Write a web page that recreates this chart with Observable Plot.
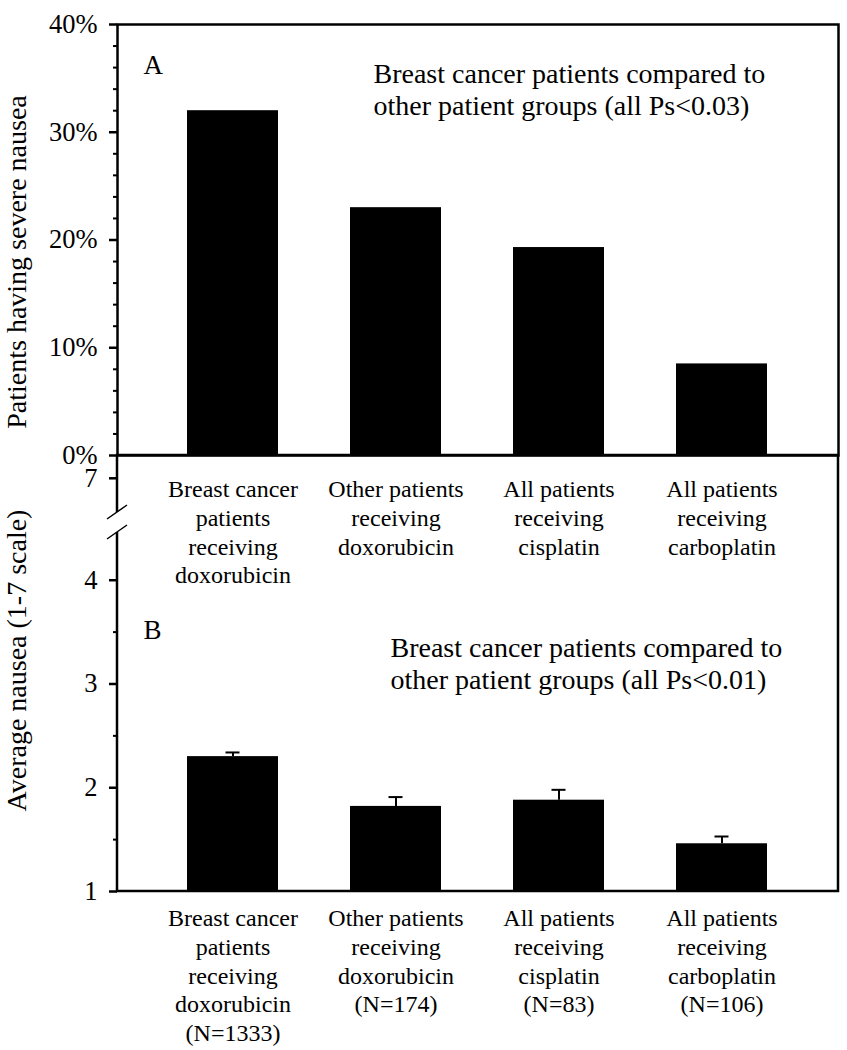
<!DOCTYPE html>
<html>
<head>
<meta charset="utf-8">
<script src="https://cdn.jsdelivr.net/npm/d3@7"></script>
<script src="https://cdn.jsdelivr.net/npm/@observablehq/plot@0.6"></script>
<style>
  html, body { margin: 0; padding: 0; background: white; }
  #wrap { position: relative; width: 847px; height: 1050px; background: white; }
  #wrap svg { position: absolute; left: 0; top: 0; }
</style>
</head>
<body>
<div id="wrap"></div>
<script>
// ---- data ----
const categories = [
  "Breast cancer\npatients\nreceiving\ndoxorubicin",
  "Other patients\nreceiving\ndoxorubicin",
  "All patients\nreceiving\ncisplatin",
  "All patients\nreceiving\ncarboplatin"
];
const nLabels = ["(N=1333)", "(N=174)", "(N=83)", "(N=106)"];
const severePct = [32.0, 23.0, 19.3, 8.5];          // panel A, %
const avgNausea = [2.30, 1.82, 1.88, 1.46];         // panel B, mean (1-7)
const avgNauseaUpper = [2.34, 1.91, 1.98, 1.53];    // panel B, mean + SE
const ticksA = [0, 10, 20, 30, 40];
const minorTicksA = [2, 4, 6, 8, 12, 14, 16, 18, 22, 24, 26, 28, 32, 34, 36, 38];
const ticksB = [1, 2, 3, 4, 7];
const minorTicksB = [1.5, 2.5, 3.5];
const breakB = [4.46, 6.67];
const domainB = [1, breakB[0], breakB[1], 7.22];
const titleA = "Patients having severe nausea";
const titleB = "Average nausea (1-7 scale)";
const noteA = "Breast cancer patients compared to\nother patient groups (all Ps<0.03)";
const noteB = "Breast cancer patients compared to\nother patient groups (all Ps<0.01)";

const dataA = categories.map((c, i) => ({cat: c, value: severePct[i]}));
const dataB = categories.map((c, i) => ({cat: c, value: avgNausea[i], hi: avgNauseaUpper[i], label: c + "\n" + nLabels[i]}));

const W = 847, H = 1050;
const font = "Liberation Serif, Times New Roman, serif";
const xOpts = {domain: categories, paddingInner: 0.44, paddingOuter: 0.42, axis: null};

// ---- panel A ----
const plotA = Plot.plot({
  width: W, height: H,
  marginLeft: 117, marginRight: 9, marginTop: 24, marginBottom: 595,
  style: {fontFamily: font, background: "transparent", color: "black"},
  x: xOpts,
  y: {domain: [0, 40], label: null},
  marks: [
    Plot.barY(dataA, {x: "cat", y: "value", fill: "black"}),
    Plot.frame({stroke: "black", strokeWidth: 2.5}),
    Plot.axisY({ticks: ticksA, tickFormat: d => d + "%", tickSize: 8, tickPadding: 12, fontSize: 26.5, strokeWidth: 2.5, label: null}),
    Plot.axisY({ticks: minorTicksA, tickFormat: () => "", tickSize: 4, strokeWidth: 2, label: null}),
    Plot.text([titleA], {text: d => d, frameAnchor: "left", textAnchor: "middle", rotate: -90, dx: -100, dy: 22, fontSize: 28, lineAnchor: "middle"}),
    Plot.text(["A"], {text: d => d, frameAnchor: "top-left", textAnchor: "start", lineAnchor: "middle", dx: 26, dy: 41, fontSize: 27}),
    Plot.text([noteA], {text: d => d, frameAnchor: "top-left", textAnchor: "start", lineAnchor: "top", dx: 256, dy: 36, fontSize: 28, lineHeight: 1.14}),
    Plot.text(dataA, {x: "cat", text: "cat", frameAnchor: "bottom", lineAnchor: "top", dy: 21, fontSize: 24, lineHeight: 1.2})
  ]
});

// ---- panel B ----
function frameB(index, scales, values, dims) {
  const y = scales.y;
  const L = dims.marginLeft, R = dims.width - dims.marginRight;
  const T = y(domainB[3]), B = y(domainB[0]);
  const b0 = y(breakB[0]), b1 = y(breakB[1]);
  const g = d3.create("svg:g").attr("fill", "none").attr("stroke", "black");
  g.append("path").attr("stroke-width", 2.5)
    .attr("d", `M${L},${b1}V${T}H${R}V${B}H${L}V${b0}`);
  g.append("path").attr("stroke-width", 1.5)
    .attr("d", `M${L - 10},${b1 + 7}L${L + 10},${b1 - 7}M${L - 10},${b0 + 7}L${L + 10},${b0 - 7}`);
  return g.node();
}

const plotB = Plot.plot({
  width: W, height: H,
  marginLeft: 117, marginRight: 9, marginTop: 455, marginBottom: 159,
  style: {fontFamily: font, background: "transparent", color: "black"},
  x: xOpts,
  y: {type: "linear", domain: domainB, range: [891, 532, 512, 455], label: null},
  marks: [
    Plot.barY(dataB, {x: "cat", y1: domainB[0], y2: "value", fill: "black"}),
    Plot.ruleX(dataB, {x: "cat", y1: "value", y2: "hi", stroke: "black", strokeWidth: 2}),
    Plot.tickY(dataB, {x: "cat", y: "hi", stroke: "black", strokeWidth: 2, insetLeft: 38.5, insetRight: 38.5}),
    frameB,
    Plot.axisY({ticks: ticksB, tickFormat: d => String(d), tickSize: 8, tickPadding: 12, fontSize: 26.5, strokeWidth: 2.5, label: null}),
    Plot.axisY({ticks: minorTicksB, tickFormat: () => "", tickSize: 4, strokeWidth: 2, label: null}),
    Plot.text([titleB], {text: d => d, frameAnchor: "left", textAnchor: "middle", rotate: -90, dx: -100, dy: -13, fontSize: 28, lineAnchor: "middle"}),
    Plot.text(["B"], {text: d => d, frameAnchor: "top-left", textAnchor: "start", lineAnchor: "middle", dx: 26, dy: 175, fontSize: 27}),
    Plot.text([noteB], {text: d => d, frameAnchor: "top-left", textAnchor: "start", lineAnchor: "top", dx: 273, dy: 179, fontSize: 28, lineHeight: 1.14}),
    Plot.text(dataB, {x: "cat", text: "label", frameAnchor: "bottom", lineAnchor: "top", dy: 14, fontSize: 24, lineHeight: 1.2})
  ]
});

const wrap = document.getElementById("wrap");
wrap.appendChild(plotA);
wrap.appendChild(plotB);
</script>
</body>
</html>
